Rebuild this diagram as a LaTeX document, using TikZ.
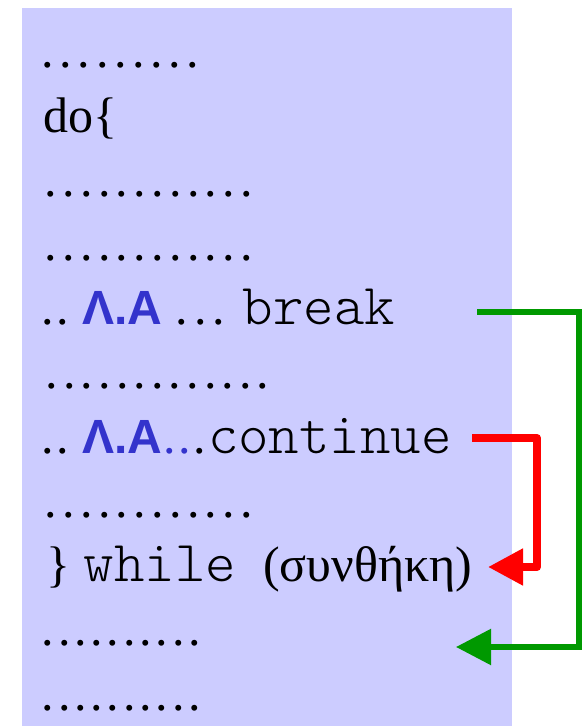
\documentclass[tikz,border=0pt]{standalone}
\usepackage{fontspec}
\setmainfont{Liberation Serif}
\newfontfamily\lafont{Liberation Sans}
\usetikzlibrary{arrows.meta}

\definecolor{panel}{RGB}{204,204,255}
\definecolor{laBlue}{RGB}{51,51,204}
\definecolor{jumpGreen}{RGB}{0,153,0}
\definecolor{jumpRed}{RGB}{255,0,0}

% a row of #1 full stops, one every #2 pt
\newcommand\pdots[2]{\foreach \i in {1,...,#1}{\makebox[#2pt][c]{.}}}
\newcommand\lbl{{\lafont\bfseries\fontsize{48}{52}\selectfont\color{laBlue}Λ.Α}}
\newcommand\kw[1]{{\ttfamily\fontseries{l}\fontsize{58}{64}\selectfont #1}}

\tikzset{
  codeline/.style={anchor=base west, inner sep=0pt, outer sep=0pt,
                   font=\fontsize{50}{60}\selectfont},
  jump/.style={line width=#1, -{Triangle[length=35pt,width=35pt]}},
}

\begin{document}
\begin{tikzpicture}[x=1pt,y=1pt]
  \useasboundingbox (0,0) rectangle (583,726);
  \fill[panel] (22,0) rectangle (512,718);

  \node[codeline] (r1)  at (39,658)   {\pdots{9}{18.1}};
  \node[codeline] (r2)  at (43.5,593.8) {do\{};
  \node[codeline] (r3)  at (42.1,529.6) {\pdots{12}{17.8}};
  \node[codeline] (r4)  at (42.1,465.4) {\pdots{12}{17.8}};
  \node[codeline] (r5)  at (40.5,401.2)
    {\pdots{2}{15}\hspace{11.5pt}\lbl\hspace{11pt}\pdots{3}{18.3}\hspace{15pt}\kw{break}};
  \node[codeline] (r6)  at (43.2,337)   {\pdots{13}{17.6}};
  \node[codeline] (r7)  at (40.5,272.8)
    {\pdots{2}{15}\hspace{11.5pt}\lbl{\color{laBlue}\pdots{2}{15}}\pdots{1}{15}\hspace{1pt}\kw{continue}};
  \node[codeline] (r8)  at (42.1,208.6) {\pdots{12}{17.8}};
  \node[codeline] (r9)  at (46,144.4)
    {\}\hspace{14pt}\kw{while}\hspace{27pt}(συνθήκη)};
  \node[codeline] (r10) at (39.9,80.2)  {\pdots{10}{16.3}};
  \node[codeline] (r11) at (39.9,16)    {\pdots{10}{16.3}};

  % loop exits: break jumps past the loop, continue jumps to the test
  \coordinate (brkOut)  at (477,414);
  \coordinate (brkIn)   at (456,79);
  \coordinate (contOut) at (472,288);
  \coordinate (contIn)  at (488,159);

  \draw[jump=5.5pt, jumpGreen, line join=miter]
    (brkOut) -- (579,414) -- (579,79) -- (brkIn);
  \draw[jump=8pt, jumpRed, line join=round]
    (contOut) -- (537,288) -- (537,159) -- (contIn);
\end{tikzpicture}
\end{document}
